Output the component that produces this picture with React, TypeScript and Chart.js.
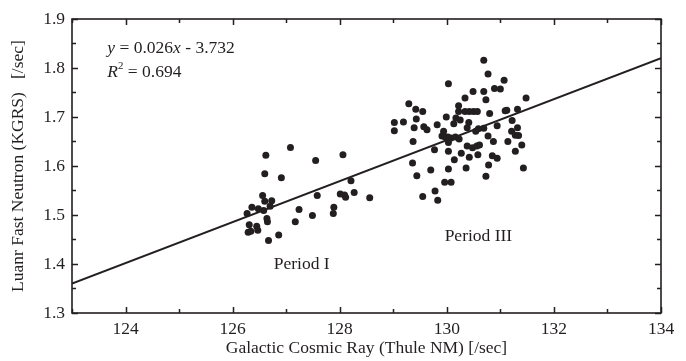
import React, { useEffect, useRef } from 'react';
import { Chart, registerables } from 'chart.js';

Chart.register(...registerables);

const INK = '#231f20';
const FONT = 'Liberation Serif';
const FS = 17.5;

const xTickValues = [124, 126, 128, 130, 132, 134];
const yTickValues = [1.3, 1.4, 1.5, 1.6, 1.7, 1.8, 1.9];
const xRange = [123, 134];
const yRange = [1.3, 1.9];

const xTitle = 'Galactic Cosmic Ray (Thule NM) [/sec]';
const yTitle = 'Luanr Fast Neutron (KGRS)   [/sec]';
const periodILabel = 'Period I';
const periodIIILabel = 'Period III';
const equationSlope = '0.026';
const equationIntercept = '3.732';
const rSquared = '0.694';

const periodIX = [127.08, 126.62, 128.06, 127.55, 126.60, 126.91, 128.21, 126.56, 127.58, 128.01,
  128.09, 128.11, 128.27, 128.56, 126.60, 126.73, 126.36, 126.48, 126.58, 126.70,
  127.24, 127.89, 127.88, 127.49, 126.27, 126.64, 126.65, 127.17, 126.31, 126.45,
  126.47, 126.29, 126.34, 126.86, 126.67];
const periodIY = [1.638, 1.622, 1.623, 1.611, 1.584, 1.576, 1.570, 1.540, 1.540, 1.543,
  1.541, 1.536, 1.546, 1.535, 1.528, 1.529, 1.516, 1.513, 1.509, 1.518,
  1.511, 1.516, 1.503, 1.499, 1.503, 1.493, 1.486, 1.486, 1.480, 1.477,
  1.469, 1.465, 1.467, 1.459, 1.448];

const periodIIIX = [130.69, 130.77, 130.03, 131.07, 130.49, 130.69, 130.89, 131.00, 130.34, 130.73,
  131.48, 130.22, 129.29, 129.42, 129.55, 130.22, 130.34, 130.42, 130.50, 130.57,
  130.80, 131.09, 131.12, 131.32, 129.99, 130.17, 130.25, 129.43, 129.02, 129.19,
  129.82, 130.13, 130.41, 131.22, 129.02, 129.39, 129.57, 129.63, 130.38, 130.59,
  130.69, 130.94, 131.32, 129.94, 129.91, 129.97, 130.02, 130.08, 130.16, 130.23,
  130.54, 130.77, 131.21, 131.28, 131.34, 129.37, 130.03, 130.38, 130.48, 130.56,
  130.61, 130.87, 131.14, 131.40, 129.77, 130.03, 130.27, 131.28, 130.14, 130.42,
  130.58, 130.85, 130.94, 129.36, 129.70, 130.03, 130.36, 130.78, 131.43, 129.44,
  130.73, 129.96, 130.08, 129.78, 129.55, 129.83];
const periodIIIY = [1.816, 1.788, 1.768, 1.775, 1.752, 1.752, 1.758, 1.757, 1.739, 1.735,
  1.739, 1.723, 1.727, 1.716, 1.711, 1.711, 1.711, 1.711, 1.711, 1.711,
  1.707, 1.713, 1.714, 1.716, 1.700, 1.698, 1.694, 1.696, 1.689, 1.690,
  1.684, 1.686, 1.689, 1.693, 1.672, 1.678, 1.680, 1.674, 1.678, 1.676,
  1.677, 1.682, 1.678, 1.671, 1.661, 1.659, 1.659, 1.657, 1.659, 1.655,
  1.671, 1.661, 1.671, 1.663, 1.662, 1.650, 1.648, 1.641, 1.637, 1.641,
  1.643, 1.650, 1.650, 1.643, 1.633, 1.630, 1.626, 1.630, 1.613, 1.618,
  1.623, 1.621, 1.616, 1.606, 1.592, 1.594, 1.596, 1.602, 1.596, 1.580,
  1.579, 1.567, 1.567, 1.549, 1.538, 1.530];

const fitLineX = [123, 134];
const fitLineY = [1.36, 1.82];

// annotation anchor positions in data units
const equationPos = { x: 123.66, y: 1.841 };
const r2Pos = { x: 123.66, y: 1.792 };
const periodIPos = { x: 127.29, y: 1.399 };
const periodIIIPos = { x: 130.59, y: 1.456 };

const zip = (xs: number[], ys: number[]) => xs.map((x, i) => ({ x, y: ys[i] }));

const framePlugin = {
  id: 'frameTicks',
  afterDatasetsDraw(chart: any) {
    const { ctx, chartArea, scales } = chart;
    const { left, right, top, bottom } = chartArea;
    const xs = scales.x;
    const ys = scales.y;
    ctx.save();
    ctx.strokeStyle = INK;
    ctx.lineWidth = 1.5;
    ctx.beginPath();
    for (let v = xRange[0]; v <= xRange[1] + 1e-9; v += 1) {
      const p = Math.round(xs.getPixelForValue(v)) + 0.5;
      const len = Math.abs(v % 2) < 1e-6 ? 6 : 4;
      ctx.moveTo(p, bottom);
      ctx.lineTo(p, bottom - len);
      ctx.moveTo(p, top);
      ctx.lineTo(p, top + len);
    }
    for (let k = 0; k <= 12; k++) {
      const v = yRange[0] + k * 0.05;
      const p = Math.round(ys.getPixelForValue(v)) + 0.5;
      const len = k % 2 === 0 ? 6 : 4;
      ctx.moveTo(left, p);
      ctx.lineTo(left + len, p);
      ctx.moveTo(right, p);
      ctx.lineTo(right - len, p);
    }
    ctx.stroke();
    ctx.lineWidth = 1.6;
    ctx.strokeRect(left, top, right - left, bottom - top);
    ctx.restore();
  },
  afterDraw(chart: any) {
    const { ctx, scales } = chart;
    const xs = scales.x;
    const ys = scales.y;
    const normal = `${FS}px "${FONT}"`;
    const italic = `italic ${FS}px "${FONT}"`;
    ctx.save();
    ctx.fillStyle = INK;
    ctx.textBaseline = 'middle';
    ctx.textAlign = 'left';

    const drawParts = (x0: number, y0: number, parts: { t: string; f: string; dy?: number }[]) => {
      let x = x0;
      for (const p of parts) {
        ctx.font = p.f;
        ctx.fillText(p.t, x, y0 + (p.dy || 0));
        x += ctx.measureText(p.t).width;
      }
    };

    drawParts(xs.getPixelForValue(equationPos.x), ys.getPixelForValue(equationPos.y), [
      { t: 'y', f: italic },
      { t: ' = ' + equationSlope, f: normal },
      { t: 'x', f: italic },
      { t: ' - ' + equationIntercept, f: normal },
    ]);
    drawParts(xs.getPixelForValue(r2Pos.x), ys.getPixelForValue(r2Pos.y), [
      { t: 'R', f: italic },
      { t: '2', f: `${FS * 0.62}px "${FONT}"`, dy: -6 },
      { t: ' = ' + rSquared, f: normal },
    ]);

    ctx.font = normal;
    ctx.textAlign = 'center';
    ctx.fillText(periodILabel, xs.getPixelForValue(periodIPos.x), ys.getPixelForValue(periodIPos.y));
    ctx.fillText(periodIIILabel, xs.getPixelForValue(periodIIIPos.x), ys.getPixelForValue(periodIIIPos.y));
    ctx.restore();
  },
};

export default function App() {
  const ref = useRef<HTMLCanvasElement | null>(null);

  useEffect(() => {
    document.body.style.margin = '0';
    const canvas = ref.current;
    if (!canvas) return;
    const font = { family: FONT, size: FS };
    const chart = new Chart(canvas, {
      type: 'scatter',
      data: {
        datasets: [
          {
            label: 'fit',
            data: zip(fitLineX, fitLineY),
            showLine: true,
            borderColor: INK,
            borderWidth: 2,
            pointRadius: 0,
            order: 2,
          },
          {
            label: 'Period I',
            data: zip(periodIX, periodIY),
            backgroundColor: INK,
            borderColor: INK,
            borderWidth: 0,
            pointRadius: 3.5,
            order: 1,
          },
          {
            label: 'Period III',
            data: zip(periodIIIX, periodIIIY),
            backgroundColor: INK,
            borderColor: INK,
            borderWidth: 0,
            pointRadius: 3.5,
            order: 1,
          },
        ],
      },
      options: {
        animation: false,
        responsive: false,
        devicePixelRatio: 1,
        layout: { padding: { top: 19, right: 25, left: 0, bottom: 0 } },
        plugins: { legend: { display: false }, tooltip: { enabled: false } },
        scales: {
          x: {
            type: 'linear',
            position: 'bottom',
            min: xRange[0],
            max: xRange[1],
            grid: { display: false, drawTicks: false },
            border: { display: false },
            afterBuildTicks: (s: any) => { s.ticks = xTickValues.map((v) => ({ value: v })); },
            afterFit: (s: any) => { s.height = 48; },
            ticks: { font, color: INK, padding: 6, maxRotation: 0, autoSkip: false, callback: (v: any) => String(v) },
            title: { display: true, text: xTitle, font, color: INK, padding: { top: 0, bottom: 2 } },
          },
          y: {
            type: 'linear',
            position: 'left',
            min: yRange[0],
            max: yRange[1],
            grid: { display: false, drawTicks: false },
            border: { display: false },
            afterBuildTicks: (s: any) => { s.ticks = yTickValues.map((v) => ({ value: v })); },
            afterFit: (s: any) => { s.width = 72; },
            ticks: { font, color: INK, padding: 7, autoSkip: false, callback: (v: any) => Number(v).toFixed(1) },
            title: { display: true, text: yTitle, font, color: INK, padding: { top: 8, bottom: 0 } },
          },
        },
      },
      plugins: [framePlugin],
    });
    return () => chart.destroy();
  }, []);

  return (
    <div style={{ width: 686, height: 361, background: '#fff' }}>
      <canvas ref={ref} width={686} height={361} style={{ display: 'block', width: 686, height: 361 }} />
    </div>
  );
}
